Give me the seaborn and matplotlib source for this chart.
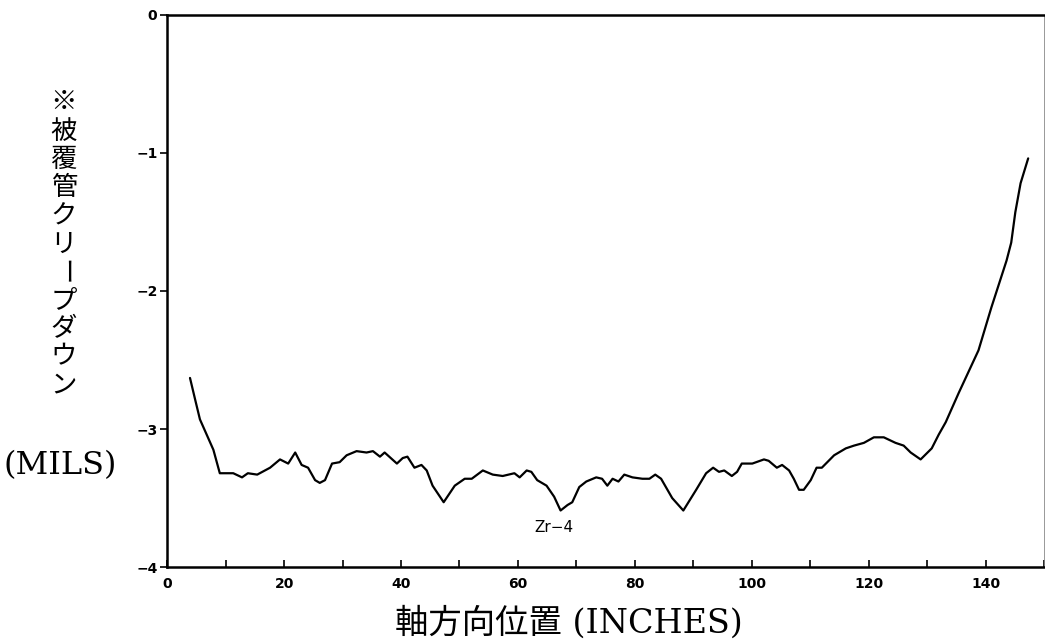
import pandas as pd
import seaborn as sns
import matplotlib.pyplot as plt
from matplotlib.ticker import MultipleLocator

# 軸方向位置 (inches) と被覆管クリープダウン (mils)
position = [3.9, 4.8, 5.6, 7.9, 9.0, 11.3, 12.8, 13.8, 15.4, 17.6, 19.3, 20.7,
            21.9, 23.0, 24.1, 25.3, 26.1, 27.0, 28.2, 29.5, 30.7, 32.4, 34.1,
            35.2, 36.4, 37.2, 39.3, 40.3, 41.1, 42.3, 43.5, 44.4, 45.4, 47.3,
            49.2, 50.9, 52.1, 54.0, 55.7, 57.4, 59.4, 60.3, 61.5, 62.3, 63.3,
            64.9, 66.2, 67.3, 68.5, 69.3, 70.5, 71.7, 73.4, 74.4, 75.3, 76.2,
            77.2, 78.2, 79.6, 81.3, 82.5, 83.5, 84.5, 86.4, 88.3, 90.5, 92.2,
            93.4, 94.4, 95.3, 96.6, 97.5, 98.3, 100.1, 102.1, 102.9, 104.3,
            105.2, 106.4, 107.2, 108.1, 108.9, 110.1, 111.1, 112.0, 114.1,
            116.1, 117.5, 119.2, 120.9, 122.6, 124.6, 126.0, 127.2, 128.9,
            130.8, 132.0, 133.2, 135.4, 138.8, 141.0, 143.6, 144.4, 145.1,
            146.0, 147.3]
creepdown = [-2.63, -2.79, -2.93, -3.15, -3.32, -3.32, -3.35, -3.32, -3.33,
             -3.28, -3.22, -3.25, -3.17, -3.26, -3.28, -3.37, -3.39, -3.37,
             -3.25, -3.24, -3.19, -3.16, -3.17, -3.16, -3.20, -3.17, -3.25,
             -3.21, -3.20, -3.28, -3.26, -3.30, -3.41, -3.53, -3.41, -3.36,
             -3.36, -3.30, -3.33, -3.34, -3.32, -3.35, -3.30, -3.31, -3.37,
             -3.41, -3.49, -3.59, -3.55, -3.53, -3.42, -3.38, -3.35, -3.36,
             -3.41, -3.36, -3.38, -3.33, -3.35, -3.36, -3.36, -3.33, -3.36,
             -3.50, -3.59, -3.44, -3.32, -3.28, -3.31, -3.30, -3.34, -3.31,
             -3.25, -3.25, -3.22, -3.23, -3.28, -3.26, -3.30, -3.36, -3.44,
             -3.44, -3.37, -3.28, -3.28, -3.19, -3.14, -3.12, -3.10, -3.06,
             -3.06, -3.10, -3.12, -3.17, -3.22, -3.14, -3.04, -2.95, -2.74,
             -2.43, -2.12, -1.78, -1.65, -1.43, -1.22, -1.04]

x_ticks = [0, 20, 40, 60, 80, 100, 120, 140]
y_ticks = [0, -1, -2, -3, -4]
ylabel_chars = list("※被覆管クリープダウン")

sns.set_theme(style="ticks")
plt.rcParams['font.family'] = ['DejaVu Sans', 'Noto Sans CJK JP']
for key in ['text.color', 'axes.edgecolor', 'axes.labelcolor',
            'xtick.color', 'ytick.color']:
    plt.rcParams[key] = 'black'
serif_jp = ['DejaVu Serif', 'Noto Sans CJK JP']

df = pd.DataFrame({'pos': position, 'creep': creepdown})

fig = plt.figure(figsize=(10.45, 6.43), dpi=100)
ax = fig.add_axes([0.160, 0.118, 0.839, 0.859])

sns.lineplot(data=df, x='pos', y='creep', sort=False, estimator=None,
             color='black', linewidth=1.6, ax=ax)

ax.set_xlim(0, 150)
ax.set_ylim(-4, 0)
ax.set_xticks(x_ticks)
ax.set_yticks(y_ticks)
ax.set_yticklabels([str(v).replace('-', '−') for v in y_ticks])
ax.xaxis.set_minor_locator(MultipleLocator(10))
ax.tick_params(axis='x', which='both', direction='in', length=5, width=1.2,
               pad=7, labelsize=10)
ax.tick_params(axis='y', direction='out', length=5, width=1.2, pad=2,
               labelsize=10)
for lab in ax.get_xticklabels() + ax.get_yticklabels():
    lab.set_fontweight('bold')

for side in ['left', 'bottom', 'top']:
    ax.spines[side].set_linewidth(1.8)
ax.spines['right'].set_linewidth(0.6)
ax.spines['right'].set_color('#888888')

ax.set_xlabel('')
ax.set_ylabel('')

ax.text(66.2, -3.71, 'Zr−4', fontsize=11, ha='center', va='center')

# 縦書きの軸ラベル
for i, ch in enumerate(ylabel_chars):
    fig.text(0.061, 0.840 - i * 0.0439, ch, family=serif_jp, fontsize=19,
             ha='center', va='center', rotation=-90 if ch == 'ー' else 0)
fig.text(0.058, 0.276, '(MILS)', family=serif_jp, fontsize=23,
         ha='center', va='center')

fig.text(0.5445, 0.031, '軸方向位置 (INCHES)', family=serif_jp, fontsize=24,
         ha='center', va='center')

fig.savefig('out.png', dpi=100)
